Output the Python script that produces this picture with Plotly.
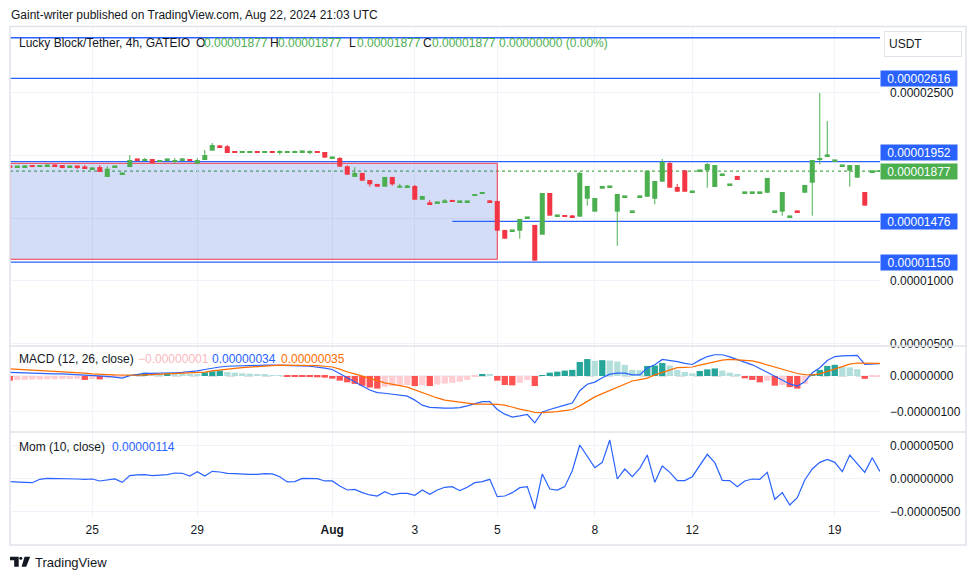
import plotly.graph_objects as go

# ---------------- data (prices in 1e-6 USDT, indicator values in 1e-8) ----------------
OPEN = [19.16,19.14,19.14,19.25,19.09,19.22,19.24,19.25,19.14,19.16,
        19.08,18.98,19.09,18.30,19.14,18.58,19.09,19.72,19.57,19.73,
        19.56,19.70,19.52,19.70,19.73,19.36,19.65,20.40,20.76,20.75,
        20.30,20.28,20.28,20.30,20.28,20.30,20.28,20.28,20.28,20.34,
        20.28,20.30,20.29,19.86,19.81,19.15,18.30,18.62,18.06,17.74,
        17.52,18.30,17.44,17.54,17.58,16.48,16.21,16.27,16.35,16.46,
        16.35,16.35,16.78,16.96,16.37,16.38,14.07,14.03,14.01,15.07,
        14.47,13.69,17.02,15.23,15.26,15.17,15.13,16.56,15.53,17.36,
        17.54,15.53,16.75,15.55,16.75,16.72,16.56,17.92,19.41,17.50,
        18.83,17.14,18.82,18.83,17.50,18.50,17.70,18.38,17.07,17.07,
        17.07,17.04,15.55,15.53,15.15,15.57,17.04,17.84,19.72,20.02,
        19.62,19.22,18.80,18.24,17.10,18.75,18.77]
HIGH = [19.17,19.16,19.23,19.25,19.25,19.24,19.24,19.25,19.16,19.16,
        19.25,19.07,19.25,19.17,19.16,18.60,20.05,19.72,19.81,19.73,
        19.58,19.72,19.81,19.81,19.73,19.81,20.45,21.01,20.85,20.85,
        20.37,20.30,20.37,20.37,20.37,20.37,20.43,20.37,20.40,20.36,
        20.43,20.37,20.29,19.88,19.89,19.23,19.09,18.62,18.06,17.74,
        18.30,18.30,17.74,17.66,17.66,16.78,16.46,16.29,16.54,16.46,
        16.37,16.37,16.94,17.10,16.46,16.38,14.07,14.05,14.94,15.09,
        14.47,17.02,17.02,15.25,15.26,15.26,18.70,17.58,16.62,17.58,
        17.56,16.94,16.77,15.57,16.77,18.80,17.98,19.73,19.49,17.74,
        18.83,17.16,18.84,19.41,19.25,18.52,17.72,18.38,17.09,17.09,
        17.09,18.22,15.57,17.10,15.17,15.57,17.66,19.65,25.00,22.77,
        19.64,19.24,19.25,19.25,17.10,18.77,18.77]
LOW = [19.13,19.13,19.14,19.09,19.09,19.22,19.22,19.01,19.14,18.93,
       19.06,18.91,18.70,18.30,19.14,18.58,19.09,19.70,19.57,19.36,
       19.56,19.70,19.36,19.60,19.57,19.36,19.65,20.40,20.74,20.21,
       20.28,20.28,20.28,20.28,20.28,20.28,20.08,20.28,20.28,20.34,
       20.11,20.28,19.84,19.86,19.12,18.48,18.30,18.00,17.52,17.52,
       17.52,17.60,17.44,17.54,16.48,16.48,16.19,16.14,16.35,16.33,
       16.35,16.35,16.78,16.96,16.25,14.01,13.37,14.03,13.37,15.07,
       11.62,13.69,15.21,15.23,15.13,15.15,15.13,16.01,15.53,17.36,
       17.54,12.81,16.75,15.55,16.75,16.72,16.12,17.92,17.44,17.12,
       17.12,17.14,18.82,17.44,17.50,18.50,17.70,18.06,17.07,17.07,
       17.07,17.04,15.55,15.21,15.15,15.55,17.04,15.21,19.31,20.02,
       19.62,19.22,17.52,18.24,16.01,18.75,18.77]
CLOSE = [19.14,19.15,19.16,19.09,19.25,19.24,19.22,19.01,19.16,19.14,
         19.06,19.00,18.70,18.96,19.16,18.60,19.65,19.70,19.73,19.41,
         19.58,19.72,19.65,19.72,19.57,19.65,20.05,20.85,20.74,20.21,
         20.28,20.30,20.30,20.28,20.30,20.28,20.30,20.30,20.30,20.36,
         20.30,20.28,19.84,19.88,19.12,18.48,18.62,18.00,17.71,17.52,
         18.30,17.71,17.60,17.56,16.48,16.78,16.19,16.29,16.37,16.33,
         16.37,16.37,16.94,17.10,16.35,14.01,13.37,14.05,14.94,15.09,
         11.62,17.02,15.21,15.25,15.13,15.15,18.62,17.58,16.62,17.58,
         17.56,16.94,16.77,15.57,16.77,18.80,17.98,19.49,17.44,17.12,
         17.12,17.16,18.84,19.33,19.25,18.52,17.72,18.06,17.09,17.09,
         17.09,18.22,15.57,17.10,15.17,15.55,17.66,19.65,19.74,20.04,
         19.64,19.24,19.25,19.25,16.01,18.77,18.77]

MACD = [10,9,8,7,7,6,6,6,5,5,
        3,3,1,-1,-3,-6,1,5,7,7,
        7,9,9,10,11,14,18,22,25,27,
        28,29,30,30,30,30,30,29,29,28,
        27,25,22,18,6,-6,-16,-28,-39,-46,
        -48,-50,-53,-56,-67,-81,-87,-89,-89,-89,
        -88,-83,-76,-71,-71,-93,-106,-114,-111,-107,
        -130,-100,-93,-88,-81,-75,-41,-23,-17,-5,
        5,8,8,3,3,22,31,46,44,40,
        35,32,44,54,59,59,53,46,39,31,
        21,10,1,-11,-22,-28,-16,9,23,43,
        54,56,57,57,32,33,34]
SIGNAL = [20,19,17,15,14,13,12,11,10,9,
          8,6,6,4,3,2,2,2,3,4,
          5,6,6,7,8,9,11,14,17,19,
          21,23,25,27,28,29,30,30,30,30,
          30,29,27,25,19,11,6,-1,-6,-13,
          -19,-22,-27,-31,-39,-47,-55,-61,-67,-70,
          -74,-77,-78,-78,-78,-79,-81,-87,-92,-96,
          -101,-102,-101,-99,-96,-93,-83,-70,-58,-49,
          -40,-31,-22,-14,-10,-6,3,10,17,23,
          24,25,30,35,40,44,46,44,43,42,
          37,31,26,19,12,7,4,3,6,13,
          20,28,33,36,36,35,35]
HIST = [-13,-11,-10.5,-10,-9.8,-9.3,-9,-8.8,-8.3,-8,
        -11,-8.5,-9.5,-6.5,-4.6,-1,2,5.5,9,5.5,
        4.6,7.4,6.5,5.6,5.2,4.6,10,13,15,11,
        9.3,7.4,6.5,5.6,3.7,1.9,0.5,-1.9,-2.2,-2.8,
        -3.1,-3.7,-4.6,-7.4,-13,-17.6,-22,-27,-32,-35,
        -30,-28,-26,-25,-28,-26,-28,-24,-21,-19,
        -16,-11,-2,5.6,4.6,-13,-25,-26,-19,-11,
        -28,2,9.3,12,15,17,39,47,42,44,
        43,40,31,17,16,28,29,36,29,17,
        11,7.4,14,18.5,21,15,9.3,3.7,-6.5,-11,
        -17.6,-13,-27,-25,-31,-35,-22,4.6,17,28,
        31,26,24,19,-8,-2,-1]
MOM = [-40,-51,-51,-56,-5,10,10,10,5,0,
       -5,0,-30,-15,0,-51,51,61,66,51,
       56,66,91,86,45,111,45,116,106,86,
       81,71,71,71,81,76,35,-45,-40,10,
       5,5,-30,-30,-106,-167,-157,-207,-242,-258,
       -192,-242,-217,-217,-247,-167,-232,-167,-126,-116,
       -177,-126,-56,-40,-5,-268,-258,-207,-131,-116,
       -454,76,-152,-167,-116,126,515,338,172,252,
       591,0,151,35,162,363,-51,197,101,-25,
       -25,35,197,374,247,-20,-25,-116,-30,0,
       -5,101,-308,-207,-394,-283,-15,151,252,298,
       252,111,363,237,101,323,114]

TICK_IDX = [11, 25, 43, 54, 65, 78, 91, 110]
TICK_TEXT = ["25", "29", "<b>Aug</b>", "3", "5", "8", "12", "19"]

# 0.000015 / 0.00002 are hidden behind the price labels in the reference
PRICE_TICKS = [5, 10, 15, 20, 25]
PRICE_TICK_TEXT = ["0.00000500", "0.00001000", "", "", "0.00002500"]
MACD_TICKS = [0, -100]
MACD_TICK_TEXT = ["0.00000000", "\u22120.00000100"]
MOM_TICKS = [500, 0, -500]
MOM_TICK_TEXT = ["0.00000500", "0.00000000", "\u22120.00000500"]

LEVELS = [29.41, 26.16, 19.52, 14.76, 11.50]          # horizontal lines
LEVEL_START = [None, None, None, 59, None]             # bar index where line starts
LEVEL_LABELS = [None, "0.00002616", "0.00001952", "0.00001476", "0.00001150"]
LAST_PRICE = 18.77
RECT_BOTTOM, RECT_TOP, RECT_END = 11.73, 19.39, 65

# ---------------- style / geometry ----------------
P = 1e-6
M = 1e-8
FONT = "Liberation Sans, Arial, sans-serif"
TXT = "#131722"
GREEN = "#4caf50"; RED = "#f23645"; BLUE = "#2962ff"; ORANGE = "#ff6d00"
GRID = "#f0f3fa"; BORDER = "#e0e3eb"
W, H = 976, 580
L, R, T, B = 10, 96, 27, 63
PW, PH = W - L - R, H - T - B
X_RANGE = [0.03, 116.03]

def px(x):
    return (x - L) / PW

def py(y):
    return 1 - (y - T) / PH

n = len(CLOSE)
xs = list(range(n))

# candle bodies (with a minimum visible thickness, like TradingView)
MIN_BODY = 0.14
body_base, body_h, body_col = [], [], []
for o, c in zip(OPEN, CLOSE):
    h = max(abs(c - o), MIN_BODY)
    mid = (o + c) / 2
    body_base.append((mid - h / 2) * P)
    body_h.append(h * P)
    body_col.append(GREEN if c >= o else RED)

wx = {GREEN: [], RED: []}
wy = {GREEN: [], RED: []}
for i, (hi, lo, col) in enumerate(zip(HIGH, LOW, body_col)):
    wx[col] += [i, i, None]
    wy[col] += [lo * P, hi * P, None]

hist_col = []
for i, v in enumerate(HIST):
    prev = HIST[i - 1] if i > 0 else v
    if v >= 0:
        hist_col.append("#26a69a" if v > prev else "#b2dfdb")
    else:
        hist_col.append("#ffcdd2" if v > prev else "#ff5252")

fig = go.Figure()
for col in (GREEN, RED):
    fig.add_trace(go.Scatter(x=wx[col], y=wy[col], mode="lines",
                             line=dict(color=col, width=1), hoverinfo="skip",
                             xaxis="x", yaxis="y"))
fig.add_trace(go.Bar(x=xs, y=body_h, base=body_base, width=0.67,
                     marker=dict(color=body_col, line=dict(width=0)),
                     hoverinfo="skip", xaxis="x", yaxis="y"))

fig.add_trace(go.Bar(x=xs, y=[v * M for v in HIST], width=0.84,
                     marker=dict(color=hist_col, line=dict(width=0)),
                     hoverinfo="skip", xaxis="x2", yaxis="y2"))
fig.add_trace(go.Scatter(x=xs, y=[v * M for v in MACD], mode="lines",
                         line=dict(color=BLUE, width=1.2), xaxis="x2", yaxis="y2"))
fig.add_trace(go.Scatter(x=xs, y=[v * M for v in SIGNAL], mode="lines",
                         line=dict(color=ORANGE, width=1.2), xaxis="x2", yaxis="y2"))
fig.add_trace(go.Scatter(x=xs, y=[v * M for v in MOM], mode="lines",
                         line=dict(color=BLUE, width=1.2), xaxis="x3", yaxis="y3"))

axfont = dict(family=FONT, size=12, color=TXT)
xcommon = dict(range=X_RANGE, tickvals=TICK_IDX, showgrid=True, gridcolor=GRID,
               gridwidth=1, zeroline=False, showline=False, ticks="", fixedrange=True)
ycommon = dict(side="right", showgrid=True, gridcolor=GRID, gridwidth=1,
               zeroline=False, showline=False, ticks="", tickfont=axfont,
               ticklabelstandoff=9)

shapes = []
# rectangle zone
shapes.append(dict(type="rect", xref="x", yref="y", x0=X_RANGE[0], x1=RECT_END,
                   y0=RECT_BOTTOM * P, y1=RECT_TOP * P,
                   fillcolor="rgba(60,100,220,0.22)", line=dict(color="#f23645", width=1),
                   layer="between"))
for lv, st in zip(LEVELS, LEVEL_START):
    shapes.append(dict(type="line", xref="x", yref="y",
                       x0=st if st is not None else X_RANGE[0], x1=X_RANGE[1],
                       y0=lv * P, y1=lv * P, line=dict(color=BLUE, width=1.3),
                       layer="between"))
shapes.append(dict(type="line", xref="paper", yref="y", x0=0, x1=1,
                   y0=LAST_PRICE * P, y1=LAST_PRICE * P,
                   line=dict(color=GREEN, width=1.2, dash="dot"), layer="between"))
shapes.append(dict(type="line", xref="paper", yref="y2", x0=0, x1=1, y0=0, y1=0,
                   line=dict(color="rgba(120,123,134,0.5)", width=1, dash="dash"),
                   layer="between"))
# frame and pane separators
shapes.append(dict(type="rect", xref="paper", yref="paper", x0=px(10), x1=px(966),
                   y0=py(545), y1=py(26.5), line=dict(color=BORDER, width=1.5),
                   fillcolor="rgba(0,0,0,0)", layer="above"))
for ysep in (346, 432):
    shapes.append(dict(type="line", xref="paper", yref="paper", x0=px(10), x1=px(966),
                       y0=py(ysep), y1=py(ysep), line=dict(color=BORDER, width=1.6),
                       layer="above"))
# TradingView logo
def pth(pts):
    return "M " + " L ".join(f"{px(a):.5f},{py(b):.5f}" for a, b in pts) + " Z"
shapes.append(dict(type="path", xref="paper", yref="paper",
                   path=pth([(10, 556.7), (18.7, 556.7), (18.7, 566.7), (14.2, 566.7),
                             (14.2, 560.2), (10, 560.2)]),
                   fillcolor=TXT, line=dict(width=0), layer="above"))
shapes.append(dict(type="circle", xref="paper", yref="paper",
                   x0=px(19.3), x1=px(22.3), y0=py(559.8), y1=py(556.8),
                   fillcolor=TXT, line=dict(width=0), layer="above"))
shapes.append(dict(type="path", xref="paper", yref="paper",
                   path=pth([(24.6, 556.7), (30.2, 556.7), (26.2, 566.7), (21.6, 566.7)]),
                   fillcolor=TXT, line=dict(width=0), layer="above"))

def txt(s, x, y, color=TXT, size=12, xanchor="left"):
    return dict(text=s, x=px(x), y=py(y), xref="paper", yref="paper",
                xanchor=xanchor, yanchor="middle", showarrow=False,
                font=dict(family=FONT, size=size, color=color))

ann = []
ann.append(txt("Gaint-writer published on TradingView.com, Aug 22, 2024 21:03 UTC", 9, 15, size=12))
ann.append(txt("Lucky Block/Tether, 4h, GATEIO", 17, 42.5))
ohlc_x = [(194, 202), (268, 276), (347, 355), (421, 430)]
for (lx, vx), lab, val in zip(ohlc_x, "OHLC", [OPEN[-1], HIGH[-1], LOW[-1], CLOSE[-1]]):
    ann.append(txt(lab, lx, 42.5))
    ann.append(txt(f"{val * P:.8f}", vx, 42.5, color=GREEN))
ann.append(txt(f"{(CLOSE[-1] - CLOSE[-2]) * P:.8f} (0.00%)", 497, 42.5, color=GREEN))
ann.append(txt("MACD (12, 26, close)", 17, 359))
ann.append(txt(f"\u2212{abs(HIST[-1]) * M:.8f}", 136, 359, color="#f9b9bd"))
ann.append(txt(f"{MACD[-1] * M:.8f}", 210, 359, color=BLUE))
ann.append(txt(f"{SIGNAL[-1] * M:.8f}", 279, 359, color=ORANGE))
ann.append(txt("Mom (10, close)", 17, 447))
ann.append(txt(f"{MOM[-1] * M:.8f}", 110, 447, color=BLUE))
ann.append(txt("TradingView", 33, 562, size=13))
# price labels
for lv, lab in zip(LEVELS, LEVEL_LABELS):
    if lab is None:
        continue
    ann.append(dict(text=lab, x=px(880), y=lv * P, xref="paper", yref="y",
                    xanchor="left", yanchor="middle", showarrow=False,
                    yshift=9 if lab == "0.00001952" else 0,
                    bgcolor=BLUE, borderpad=2, width=72, height=11, align="center",
                    font=dict(family=FONT, size=12, color="white")))
ann.append(dict(text=f"{LAST_PRICE * P:.8f}", x=px(880), y=LAST_PRICE * P, xref="paper",
                yref="y", xanchor="left", yanchor="middle", showarrow=False,
                bgcolor=GREEN, borderpad=2, width=72, height=11, align="center",
                font=dict(family=FONT, size=12, color="white")))
ann.append(dict(text="USDT", x=px(884), y=py(44), xref="paper", yref="paper",
                xanchor="left", yanchor="middle", showarrow=False,
                bgcolor="white", bordercolor=BORDER, borderwidth=1, borderpad=4,
                width=68, height=16, align="left",
                font=dict(family=FONT, size=12, color=TXT)))

fig.update_layout(
    width=W, height=H, margin=dict(l=L, r=R, t=T, b=B),
    paper_bgcolor="white", plot_bgcolor="white", showlegend=False,
    barmode="overlay", hovermode=False,
    xaxis=dict(xcommon, anchor="y", showticklabels=False),
    xaxis2=dict(xcommon, anchor="y2", showticklabels=False),
    xaxis3=dict(xcommon, anchor="y3", showticklabels=True, ticktext=TICK_TEXT,
                tickfont=axfont, ticklabelstandoff=4),
    yaxis=dict(ycommon, anchor="x", domain=[py(346), 1], range=[4.807 * P, 30.267 * P],
               tickvals=[v * P for v in PRICE_TICKS], ticktext=PRICE_TICK_TEXT),
    yaxis2=dict(ycommon, anchor="x2", domain=[py(432), py(346)],
                range=[-155.6 * M, 83.3 * M],
                tickvals=[v * M for v in MACD_TICKS], ticktext=MACD_TICK_TEXT),
    yaxis3=dict(ycommon, anchor="x3", domain=[0, py(432)],
                range=[-576 * M, 712 * M],
                tickvals=[v * M for v in MOM_TICKS], ticktext=MOM_TICK_TEXT),
    shapes=shapes, annotations=ann,
)

fig.write_html("out.html", config={"displayModeBar": False},
               post_script="document.body.style.margin='0';document.body.style.overflow='hidden';")
